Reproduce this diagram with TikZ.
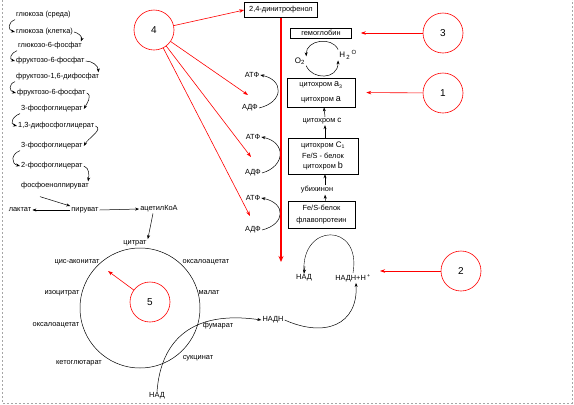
\documentclass[tikz,border=0pt]{standalone}
\usepackage{fontspec}
\setmainfont{Liberation Sans}
\usetikzlibrary{arrows.meta}

\tikzset{
  lbl/.style={font=\fontsize{7.4}{8.5}\selectfont, inner sep=1pt},
  chainbox/.style={draw, line width=0.6pt, align=center, inner sep=0pt, font=\fontsize{7.4}{8.5}\selectfont},
  numcirc/.style={circle, draw=red, line width=0.6pt, minimum size=40pt, inner sep=0pt, font=\fontsize{10}{12}\selectfont},
  arr/.style={-{Stealth[length=4pt,width=3pt]}, line width=0.5pt},
  redarr/.style={red, -{Stealth[length=5pt,width=3.5pt]}, line width=0.6pt},
}

\begin{document}
\begin{tikzpicture}[x=1pt, y=-1pt]
    \useasboundingbox (0,0) rectangle (574,405);
    % рамка страницы
    \draw[gray!70, dash pattern=on 2pt off 2pt] (2,0) -- (2,403) -- (572,403) -- (572,0);

    % гликолиз
    \node[lbl, anchor=west] (g1) at (15,15) {глюкоза (среда)};
    \node[lbl, anchor=west] (g2) at (15,32) {глюкоза (клетка)};
    \node[lbl, anchor=west] (g3) at (17,46) {глюкозо-6-фосфат};
    \node[lbl, anchor=west] (g4) at (15,61) {фруктозо-6-фосфат};
    \node[lbl, anchor=west] (g5) at (15,77) {фруктозо-1,6-дифосфат};
    \node[lbl, anchor=west] (g6) at (16,93) {фруктозо-6-фосфат};
    \node[lbl, anchor=west] (g7) at (20,109) {3-фосфоглицерат};
    \node[lbl, anchor=west] (g8) at (17,126) {1,3-дифосфоглицерат};
    \node[lbl, anchor=west] (g9) at (20,146) {3-фосфоглицерат};
    \node[lbl, anchor=west] (g10) at (20,166) {2-фосфоглицерат};
    \node[lbl, anchor=west] (g11) at (20,186) {фосфоенолпируват};

    \draw[arr] (g1.south west) to[out=200, in=165, looseness=1.6] (g2.west);
    \draw[arr] (g2.east) to[out=-10, in=70] ([xshift=-2pt]g3.north east);
    \draw[arr] (g3.south west) to[out=200, in=165, looseness=1.6] (g4.west);
    \draw[arr] (g4.east) to[out=0, in=90] ([xshift=-2pt]g5.north east);
    \draw[arr] (g5.south west) to[out=200, in=165, looseness=1.6] (g6.west);
    \draw[arr] (g6.east) to[out=-20, in=60] (g7.east);
    \draw[arr] (g7.south west) to[out=200, in=165, looseness=1.6] (g8.west);
    \draw[arr] (g8.east) to[out=-20, in=60] (g9.east);
    \draw[arr] (g9.south west) to[out=200, in=165, looseness=1.6] (g10.west);
    \draw[arr] (g10.east) to[out=-20, in=80] ([xshift=-2pt]g11.north east);

    % пируват
    \node[lbl] (lac) at (20,210) {лактат};
    \node[lbl] (pyr) at (85,210) {пируват};
    \node[lbl] (acoa) at (159,209) {ацетилКоА};
    \node[lbl] (cit) at (135,243) {цитрат};
    \draw[arr] ([shift={(20pt,-6pt)}]g11.south west) -- (pyr.north west);
    \draw[arr] (pyr.west) -- (lac.east);
    \draw[arr] (pyr.east) -- (acoa.west);
    \draw[arr] ([xshift=-6pt]acoa.south) -- (cit.north east);

    % цикл Кребса
    \node[circle, draw, line width=0.5pt, minimum size=120pt, inner sep=0pt] (tca) at (140,308) {};
    \node[lbl] (cisa) at (77,262) {цис-аконитат};
    \node[lbl] (oxa1) at (206,262) {оксалоацетат};
    \node[lbl] (isoc) at (62,293) {изоцитрат};
    \node[lbl] (mal) at (209,293) {малат};
    \node[lbl] (oxa2) at (56,325) {оксалоацетат};
    \node[lbl] (fum) at (218,326) {фумарат};
    \node[lbl] (ketg) at (79,363) {кетоглютарат};
    \node[lbl] (succ) at (198,358) {сукцинат};
    \node[lbl] (nad1) at (157,396) {НАД};
    \node[lbl] (nadh) at (273,320) {НАДН};
    \draw[arr] (nad1.north) .. controls (161,340) and (192,310) .. (nadh.west);

    % НАД / НАДН+Н+
    \node[lbl] (nad2) at (304,278) {НАД};
    \node[lbl] (nadhh) at (353,278) {НАДН+Н\,\textsuperscript{+}};
    \draw[arr] (nadh.east) .. controls (325,338) and (358,325) .. ([xshift=3pt]nadhh.south);
    \draw (nadhh.north) .. controls (362,222) and (300,222) .. (nad2.north);
    \draw[arr] (305,266) -- (nad2.north);

    % дыхательная цепь
    \node[chainbox, minimum width=73pt, minimum height=15pt] (dnp) at (281,10) {2,4-динитрофенол};
    \node[chainbox, minimum width=61pt, minimum height=10pt] (hb) at (321,33) {гемоглобин};
    \node[lbl, font=\fontsize{8}{9}\selectfont] (o2) at (300,61) {O\textsubscript{2}};
    \node[lbl, font=\fontsize{8}{9}\selectfont] (h2o) at (348,55) {H\,\textsubscript{2}\,\textsuperscript{O}};
    \draw[arr] (h2o.north west) .. controls (332,36) and (306,40) .. (o2.north east);
    \draw[arr] (o2.south east) .. controls (312,80) and (338,80) .. (h2o.south west);

    \node[chainbox, minimum width=68pt, minimum height=29pt] (b1) at (321,92.5)
        {цитохром {\fontsize{9}{9}\selectfont a}\textsubscript{3}\\[6pt]цитохром {\fontsize{9}{9}\selectfont a}};
    \node[lbl] (cc) at (322,121) {цитохром {\fontsize{8}{9}\selectfont c}};
    \node[chainbox, minimum width=70pt, minimum height=36pt] (b2) at (323,156)
        {цитохром {\fontsize{8}{9}\selectfont C}\textsubscript{1}\\[2pt]Fe/S - белок\\[2pt]цитохром {\fontsize{9}{9}\selectfont b}};
    \node[lbl] (ubq) at (317,190) {убихинон};
    \node[chainbox, minimum width=67pt, minimum height=27pt] (b3) at (321.5,214.5)
        {Fe/S-белок\\[4pt]флавопротеин};
    \draw[arr] ([xshift=3pt]cc.north) -- ([xshift=3pt]b1.south);
    \draw[arr] ([xshift=2pt]b2.north) -- ([xshift=3pt]cc.south);
    \draw[arr] ([xshift=8pt]ubq.north) -- ([xshift=2pt]b2.south);
    \draw[arr] ([xshift=4pt]b3.north) -- ([xshift=8pt]ubq.south);

    % АТФ / АДФ
    \node[lbl] (atp1) at (252,75) {АТФ};
    \node[lbl] (adp1) at (250,108) {АДФ};
    \node[lbl] (atp2) at (253,137) {АТФ};
    \node[lbl] (adp2) at (253,173) {АДФ};
    \node[lbl] (atp3) at (253,198) {АТФ};
    \node[lbl] (adp3) at (253,230) {АДФ};
    \draw[arr] (adp1.east) .. controls (284,102) and (284,80) .. (atp1.east);
    \draw[arr] (adp2.east) .. controls (286,166) and (286,142) .. (atp2.east);
    \draw[arr] (adp3.east) .. controls (286,224) and (286,203) .. (atp3.east);

    % красная линия
    \coordinate (redend) at (281,262);
    \draw[red, line width=1.2pt, -{Stealth[length=6pt,width=5pt]}] (dnp.south) -- (redend);

    % номера
    \node[numcirc] (n4) at (154,30) {4};
    \node[numcirc] (n3) at (443,33) {3};
    \node[numcirc] (n1) at (443,93) {1};
    \node[numcirc] (n2) at (461,271) {2};
    \node[numcirc] (n5) at (150,302) {5};
    \coordinate (t1) at (248,95);
    \coordinate (t2) at (251,157);
    \coordinate (t3) at (250,216);
    \coordinate (t4) at (380,271);
    \coordinate (t5) at (108,271);
    \draw[redarr] (n4) -- (dnp.west);
    \draw[redarr] (n4) -- (t1);
    \draw[redarr] (n4) -- (t2);
    \draw[redarr] (n4) -- (t3);
    \draw[redarr, shorten >=9pt] (n3) -- (hb.east);
    \draw[redarr, shorten >=11pt] (n1) -- (b1.east);
    \draw[redarr] (n2) -- (t4);
    \draw[redarr] (n5) -- (t5);
\end{tikzpicture}
\end{document}
